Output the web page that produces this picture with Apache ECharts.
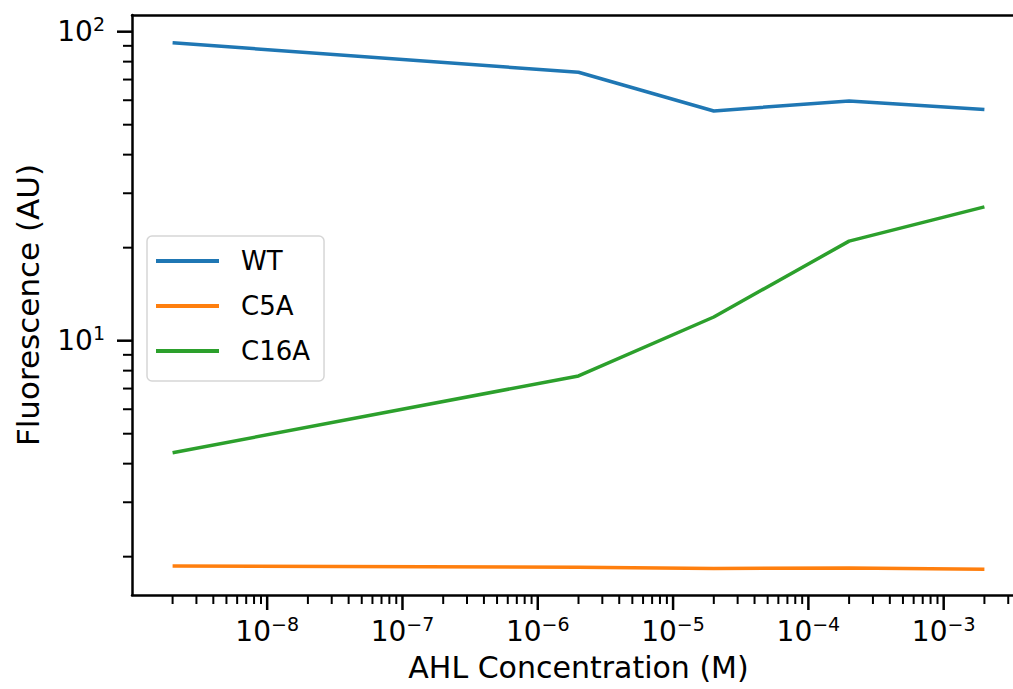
<!DOCTYPE html>
<html>
<head>
<meta charset="utf-8">
<script src="https://cdn.jsdelivr.net/npm/echarts@6/dist/echarts.min.js"></script>
<style>
html, body { margin: 0; padding: 0; background: #fff; }
#chart { width: 1013px; height: 689px; }
</style>
</head>
<body>
<div id="chart"></div>
<script>
// data
const concentrations = [2e-9, 2e-6, 2e-5, 2e-4, 2e-3];
const wtValues = [92.1, 73.9, 55.4, 59.7, 56.0];
const c5aValues = [1.866, 1.848, 1.831, 1.838, 1.820];
const c16aValues = [4.34, 7.69, 11.93, 21.0, 27.1];
const seriesNames = ['WT', 'C5A', 'C16A'];
const xTickExponents = [-8, -7, -6, -5, -4, -3];
const yTickExponents = [1, 2];

const FONT = 'DejaVu Sans';
const colors = ['#1f77b4', '#ff7f0e', '#2ca02c'];
// axis limits (5% margin in log space); the plot runs past the right edge of the figure
const xMin = Math.pow(10, -8.999);
const xMax = Math.pow(10, -2.399);
const yMin = Math.pow(10, 0.177);
const yMax = Math.pow(10, 2.054);

function pairs(vals) {
  return concentrations.map((x, i) => [x, vals[i]]);
}

function powerLabel(v) {
  const lg = Math.log10(v);
  const e = Math.round(lg);
  if (Math.abs(lg - e) > 0.01) return '';
  const sup = e < 0 ? '\u2212' + Math.abs(e) : String(e);
  return '{b|10}{s|' + sup + '}';
}

// log ticks (1..9 x 10^k) inside the axis range
function logTicks(lo, hi) {
  const out = [];
  for (let k = Math.floor(Math.log10(lo)); k <= Math.ceil(Math.log10(hi)); k++) {
    for (let m = 1; m <= 9; m++) {
      const v = m * Math.pow(10, k);
      if (v >= lo && v <= hi) out.push({ v: v, major: m === 1 });
    }
  }
  return out;
}

function renderTicks(params, api) {
  const children = [];
  logTicks(xMin, xMax).forEach(t => {
    const p = api.coord([t.v, yMin]);
    children.push({
      type: 'line',
      shape: { x1: p[0], y1: p[1], x2: p[0], y2: p[1] + (t.major ? 15 : 9) },
      style: { stroke: '#000', lineWidth: t.major ? 2.5 : 2 }
    });
  });
  logTicks(yMin, yMax).forEach(t => {
    const p = api.coord([xMin, t.v]);
    children.push({
      type: 'line',
      shape: { x1: p[0], y1: p[1], x2: p[0] - (t.major ? 15 : 9), y2: p[1] },
      style: { stroke: '#000', lineWidth: t.major ? 2.5 : 2 }
    });
  });
  return { type: 'group', children: children };
}

const labelRich = {
  b: { fontFamily: FONT, fontSize: 28, color: '#000' },
  s: { fontFamily: FONT, fontSize: 19, color: '#000', padding: [0, 0, 15, 0] }
};

const chart = echarts.init(document.getElementById('chart'), null, { renderer: 'svg' });
chart.setOption({
  animation: false,
  backgroundColor: '#fff',
  color: colors,
  grid: { left: 132, right: -12, top: 15, bottom: 94, outerBoundsMode: 'none', containLabel: false },
  legend: {
    data: seriesNames,
    orient: 'vertical',
    left: 147,
    top: 236,
    icon: 'rect',
    itemWidth: 63,
    itemHeight: 4,
    itemGap: 19,
    padding: [12, 14, 17, 9],
    backgroundColor: '#fff',
    borderColor: '#d6d6d6',
    borderWidth: 1.5,
    borderRadius: 5,
    textStyle: { fontFamily: FONT, fontSize: 26, color: '#000', lineHeight: 24, padding: [0, 0, 0, 17] }
  },
  xAxis: [
    {
      type: 'log',
      min: xMin,
      max: xMax,
      name: 'AHL Concentration (M)',
      nameLocation: 'middle',
      nameGap: 57,
      nameTextStyle: { fontFamily: FONT, fontSize: 30, color: '#000' },
      axisLine: { show: true, lineStyle: { color: '#000', width: 2.5 } },
      axisTick: { show: false },
      splitLine: { show: false },
      axisLabel: {
        margin: 19,
        showMinLabel: false,
        showMaxLabel: false,
        formatter: powerLabel,
        rich: labelRich
      }
    },
    {
      type: 'log',
      position: 'top',
      min: xMin,
      max: xMax,
      axisLine: { show: true, onZero: false, lineStyle: { color: '#000', width: 2.5 } },
      axisTick: { show: false },
      axisLabel: { show: false },
      splitLine: { show: false }
    }
  ],
  yAxis: {
    type: 'log',
    min: yMin,
    max: yMax,
    name: 'Fluorescence (AU)',
    nameLocation: 'middle',
    nameGap: 89,
    nameTextStyle: { fontFamily: FONT, fontSize: 31, color: '#000' },
    axisLine: { show: true, lineStyle: { color: '#000', width: 2.5 } },
    axisTick: { show: false },
    splitLine: { show: false },
    axisLabel: {
      margin: 27,
      showMinLabel: false,
      showMaxLabel: false,
      formatter: powerLabel,
      rich: labelRich
    }
  },
  series: [
    {
      name: seriesNames[0], type: 'line', data: pairs(wtValues),
      showSymbol: false, symbol: 'none', lineStyle: { width: 3.5 }, emphasis: { disabled: true }
    },
    {
      name: seriesNames[1], type: 'line', data: pairs(c5aValues),
      showSymbol: false, symbol: 'none', lineStyle: { width: 3.5 }, emphasis: { disabled: true }
    },
    {
      name: seriesNames[2], type: 'line', data: pairs(c16aValues),
      showSymbol: false, symbol: 'none', lineStyle: { width: 3.5 }, emphasis: { disabled: true }
    },
    {
      type: 'custom', name: 'ticks', silent: true, clip: false,
      data: [[concentrations[0], wtValues[0]]],
      renderItem: renderTicks, z: 5
    }
  ]
});
</script>
</body>
</html>
